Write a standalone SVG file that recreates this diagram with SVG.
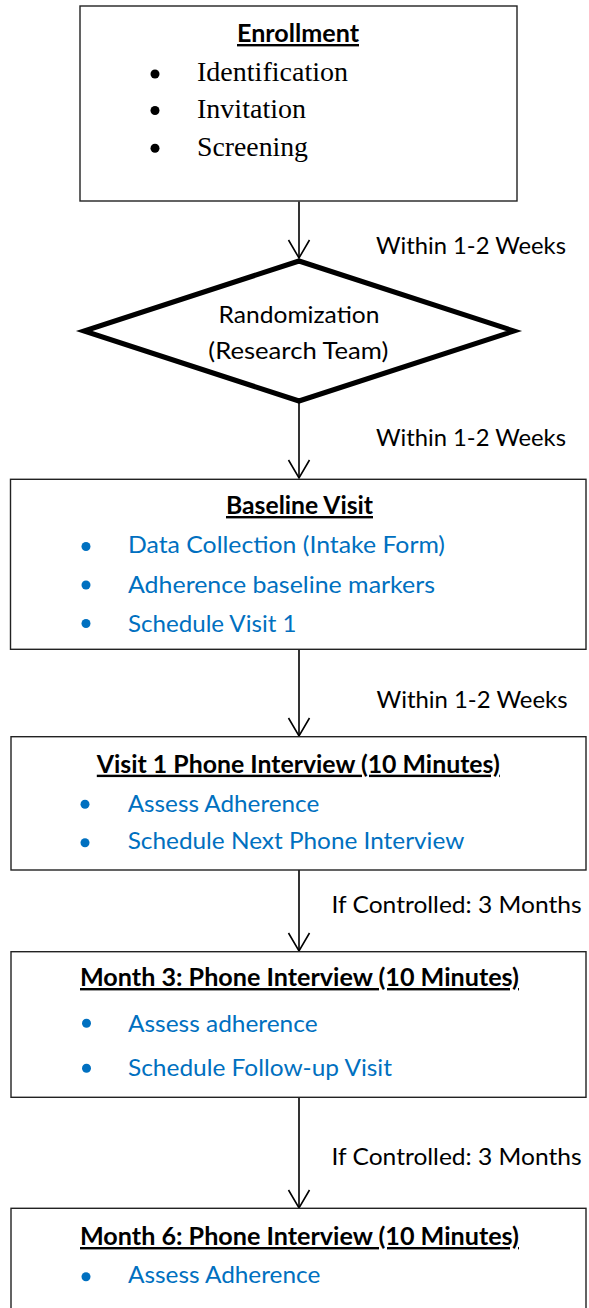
<svg xmlns="http://www.w3.org/2000/svg" width="589" height="1308" viewBox="0 0 589 1308">
  <defs>
    <style>
      .box { fill: #ffffff; stroke: #222222; stroke-width: 1.4; }
      .diamond { fill: #ffffff; stroke: #000000; stroke-width: 5; stroke-linejoin: miter; stroke-miterlimit: 20; }
      .conn { stroke: #000000; stroke-width: 1.6; fill: none; }
      .title { font-family: Lato, "Liberation Sans", sans-serif; font-size: 24px; font-weight: bold; fill: #000000; text-decoration: underline; text-anchor: middle; }
      .serif { font-family: "Liberation Serif", "DejaVu Serif", serif; font-size: 26.5px; fill: #000000; }
      .label { font-family: Lato, "Liberation Sans", sans-serif; font-size: 24px; fill: #000000; }
      .center { text-anchor: middle; }
      .item { font-family: Lato, "Liberation Sans", sans-serif; font-size: 24px; fill: #0070C0; }
      .dot { fill: #000000; }
      .bdot { fill: #0070C0; }
    </style>
    <marker id="open-arrow" markerUnits="userSpaceOnUse" markerWidth="40" markerHeight="40" refX="0" refY="0" orient="auto" overflow="visible">
      <path d="M-18,-10.5 L0,0 L-18,10.5" fill="none" stroke="#000000" stroke-width="1.6"/>
    </marker>
  </defs>

  <rect width="589" height="1308" fill="#ffffff"/>

  <!-- connectors between steps -->
  <g id="connectors">
    <line class="conn" x1="299" y1="201.5" x2="299" y2="258" marker-end="url(#open-arrow)"/>
    <line class="conn" x1="299" y1="401" x2="299" y2="478" marker-end="url(#open-arrow)"/>
    <line class="conn" x1="299" y1="649.3" x2="299" y2="736" marker-end="url(#open-arrow)"/>
    <line class="conn" x1="299" y1="870" x2="299" y2="951" marker-end="url(#open-arrow)"/>
    <line class="conn" x1="299" y1="1097.3" x2="299" y2="1208" marker-end="url(#open-arrow)"/>
    <text class="label" x="376" y="254" textLength="190" lengthAdjust="spacingAndGlyphs">Within 1-2 Weeks</text>
    <text class="label" x="376" y="446" textLength="190" lengthAdjust="spacingAndGlyphs">Within 1-2 Weeks</text>
    <text class="label" x="376.5" y="708" textLength="191" lengthAdjust="spacingAndGlyphs">Within 1-2 Weeks</text>
    <text class="label" x="331.6" y="913" textLength="250" lengthAdjust="spacingAndGlyphs">If Controlled: 3 Months</text>
    <text class="label" x="331.6" y="1165" textLength="250" lengthAdjust="spacingAndGlyphs">If Controlled: 3 Months</text>
  </g>

  <!-- Enrollment -->
  <g id="enrollment">
    <rect class="box" x="80" y="6" width="437" height="195"/>
    <text class="title" x="298" y="42" textLength="122" lengthAdjust="spacingAndGlyphs">Enrollment</text>
    <circle class="dot" cx="155" cy="74" r="4.5"/>
    <circle class="dot" cx="155" cy="110.5" r="4.5"/>
    <circle class="dot" cx="155" cy="148.3" r="4.5"/>
    <text class="serif" x="197" y="81" textLength="151" lengthAdjust="spacingAndGlyphs">Identification</text>
    <text class="serif" x="197" y="118.3" textLength="109" lengthAdjust="spacingAndGlyphs">Invitation</text>
    <text class="serif" x="197" y="156" textLength="111" lengthAdjust="spacingAndGlyphs">Screening</text>
  </g>

  <!-- Randomization decision -->
  <g id="randomization">
    <polygon class="diamond" points="299,261 514,331 299,401 84,331"/>
    <text class="label center" x="299" y="322.5" textLength="161" lengthAdjust="spacingAndGlyphs">Randomization</text>
    <text class="label center" x="298.3" y="358.5" textLength="180" lengthAdjust="spacingAndGlyphs">(Research Team)</text>
  </g>

  <!-- Baseline visit -->
  <g id="baseline-visit">
    <rect class="box" x="10.5" y="479.3" width="575.5" height="170"/>
    <text class="title" x="299.5" y="514" textLength="147" lengthAdjust="spacingAndGlyphs">Baseline Visit</text>
    <circle class="bdot" cx="86" cy="546.5" r="4.5"/>
    <circle class="bdot" cx="86" cy="585" r="4.5"/>
    <circle class="bdot" cx="86" cy="623.5" r="4.5"/>
    <text class="item" x="128" y="553" textLength="317" lengthAdjust="spacingAndGlyphs">Data Collection (Intake Form)</text>
    <text class="item" x="128" y="592.5" textLength="307" lengthAdjust="spacingAndGlyphs">Adherence baseline markers</text>
    <text class="item" x="128" y="631.5" textLength="168.5" lengthAdjust="spacingAndGlyphs">Schedule Visit 1</text>
  </g>

  <!-- Visit 1 -->
  <g id="visit-1">
    <rect class="box" x="11" y="736.7" width="575" height="133.3"/>
    <text class="title" x="298.3" y="772.7" textLength="403" lengthAdjust="spacingAndGlyphs">Visit 1 Phone Interview (10 Minutes)</text>
    <circle class="bdot" cx="85" cy="804.3" r="4.5"/>
    <circle class="bdot" cx="85" cy="842.7" r="4.5"/>
    <text class="item" x="127.7" y="811.7" textLength="191.6" lengthAdjust="spacingAndGlyphs">Assess Adherence</text>
    <text class="item" x="127.7" y="849.3" textLength="336.6" lengthAdjust="spacingAndGlyphs">Schedule Next Phone Interview</text>
  </g>

  <!-- Month 3 -->
  <g id="month-3">
    <rect class="box" x="11" y="951.7" width="575" height="145.6"/>
    <text class="title" x="299.5" y="986" textLength="439" lengthAdjust="spacingAndGlyphs">Month 3: Phone Interview (10 Minutes)</text>
    <circle class="bdot" cx="86.5" cy="1023.3" r="4.5"/>
    <circle class="bdot" cx="86.5" cy="1068.3" r="4.5"/>
    <text class="item" x="128" y="1031.7" textLength="189.6" lengthAdjust="spacingAndGlyphs">Assess adherence</text>
    <text class="item" x="128" y="1076" textLength="264" lengthAdjust="spacingAndGlyphs">Schedule Follow-up Visit</text>
  </g>

  <!-- Month 6 -->
  <g id="month-6">
    <rect class="box" x="11" y="1208.3" width="575" height="120"/>
    <text class="title" x="299.5" y="1245" textLength="439" lengthAdjust="spacingAndGlyphs">Month 6: Phone Interview (10 Minutes)</text>
    <circle class="bdot" cx="86" cy="1276.7" r="4.5"/>
    <text class="item" x="128" y="1283.3" textLength="192.3" lengthAdjust="spacingAndGlyphs">Assess Adherence</text>
  </g>
</svg>
